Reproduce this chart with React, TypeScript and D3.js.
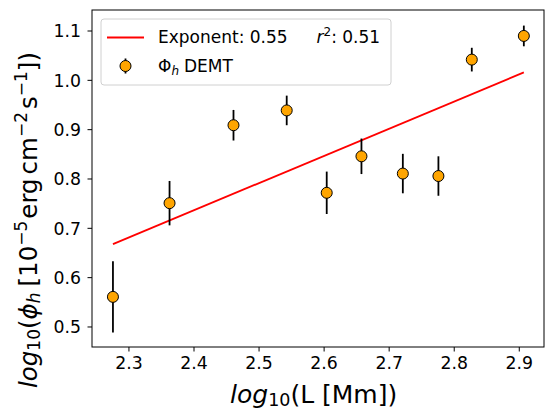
import React from "react";
import * as d3 from "d3";

const logL = [2.2754, 2.3624, 2.4607, 2.5425, 2.604, 2.6574, 2.721, 2.7757, 2.827, 2.907];
const logPhi = [0.561, 0.751, 0.909, 0.939, 0.772, 0.846, 0.811, 0.806, 1.042, 1.09];
const errPhi = [0.072, 0.045, 0.031, 0.03, 0.043, 0.036, 0.04, 0.04, 0.024, 0.021];
const fitSlope = 0.551;
const fitIntercept = -0.5857;
const xTicks = [2.3, 2.4, 2.5, 2.6, 2.7, 2.8, 2.9];
const yTicks = [0.5, 0.6, 0.7, 0.8, 0.9, 1.0, 1.1];

const W = 547, H = 409;
const L = 92, R = 544, T = 10, B = 347;
const font = "DejaVu Sans, sans-serif";

export default function App() {
  const x = d3.scaleLinear().domain([2.2432, 2.938]).range([L, R]);
  const y = d3.scaleLinear().domain([0.4594, 1.1426]).range([B, T]);
  const xMin = d3.min(logL)!, xMax = d3.max(logL)!;
  const line = d3.line<number>().x(d => x(d)).y(d => y(fitIntercept + fitSlope * d));
  return (
    <svg width={W} height={H} style={{ position: "absolute", left: 0, top: 0, background: "#fff" }} fontFamily={font}>
      <rect x={0} y={0} width={W} height={H} fill="#fff" />
      <path d={line([xMin, xMax])!} stroke="#ff0000" strokeWidth={1.8} fill="none" />
      {logL.map((lx, i) => (
        <g key={i}>
          <line x1={x(lx)} x2={x(lx)} y1={y(logPhi[i] - errPhi[i])} y2={y(logPhi[i] + errPhi[i])} stroke="#000" strokeWidth={1.8} />
          <circle cx={x(lx)} cy={y(logPhi[i])} r={5.5} fill="#ffa500" stroke="#000" strokeWidth={1} />
        </g>
      ))}
      <rect x={L} y={T} width={R - L} height={B - T} fill="none" stroke="#000" strokeWidth={1} />
      {xTicks.map(t => (
        <g key={t}>
          <line x1={x(t)} x2={x(t)} y1={B} y2={B + 4.5} stroke="#000" strokeWidth={1} />
          <text x={x(t)} y={369.3} fontSize={17.3} textAnchor="middle" fill="#000">{t.toFixed(1)}</text>
        </g>
      ))}
      {yTicks.map(t => (
        <g key={t}>
          <line x1={L - 4.5} x2={L} y1={y(t)} y2={y(t)} stroke="#000" strokeWidth={1} />
          <text x={81} y={y(t) + 6.3} fontSize={17.3} textAnchor="end" fill="#000">{t.toFixed(1)}</text>
        </g>
      ))}
      <text x={230} y={403} fontSize={25} textAnchor="start" fill="#000">
        <tspan fontStyle="italic">log</tspan>
        <tspan fontSize={17.5} dy={3}>10</tspan>
        <tspan dy={-3}>(L [Mm])</tspan>
      </text>
      <text transform={`translate(37,388) rotate(-90)`} fontSize={24.5} textAnchor="start" fill="#000">
        <tspan fontStyle="italic">log</tspan>
        <tspan fontSize={17} dy={3}>10</tspan>
        <tspan dy={-3}>(</tspan>
        <tspan fontStyle="italic">ϕ</tspan>
        <tspan fontStyle="italic" fontSize={17} dy={3}>h</tspan>
        <tspan dy={-3} dx={6}>[10</tspan>
        <tspan fontSize={17} dy={-10}>−5</tspan>
        <tspan dy={10} dx={2}>erg</tspan>
        <tspan dx={4}>cm</tspan>
        <tspan fontSize={17} dy={-10}>−2</tspan>
        <tspan dy={10} dx={3}>s</tspan>
        <tspan fontSize={17} dy={-10}>−1</tspan>
        <tspan dy={10}>])</tspan>
      </text>
      <rect x={101} y={19} width={290} height={66} rx={3} fill="#fff" fillOpacity={0.8} stroke="#d0d0d0" strokeWidth={1} />
      <line x1={107} x2={144} y1={37.5} y2={37.5} stroke="#ff0000" strokeWidth={1.8} />
      <text x={158} y={42.7} fontSize={17} fill="#000">Exponent: 0.55</text>
      <text x={316.5} y={42.7} fontSize={17} fill="#000">
        <tspan fontStyle="italic">r</tspan>
        <tspan fontSize={12} dy={-7}>2</tspan>
        <tspan dy={7}>: 0.51</tspan>
      </text>
      <line x1={125.5} x2={125.5} y1={58.5} y2={73.5} stroke="#000" strokeWidth={1.8} />
      <circle cx={125.5} cy={66} r={5.5} fill="#ffa500" stroke="#000" strokeWidth={1} />
      <text x={158} y={72.3} fontSize={17} fill="#000">
        <tspan>Φ</tspan>
        <tspan fontStyle="italic" fontSize={12} dy={3}>h</tspan>
        <tspan dy={-3} dx={5}>DEMT</tspan>
      </text>
    </svg>
  );
}
